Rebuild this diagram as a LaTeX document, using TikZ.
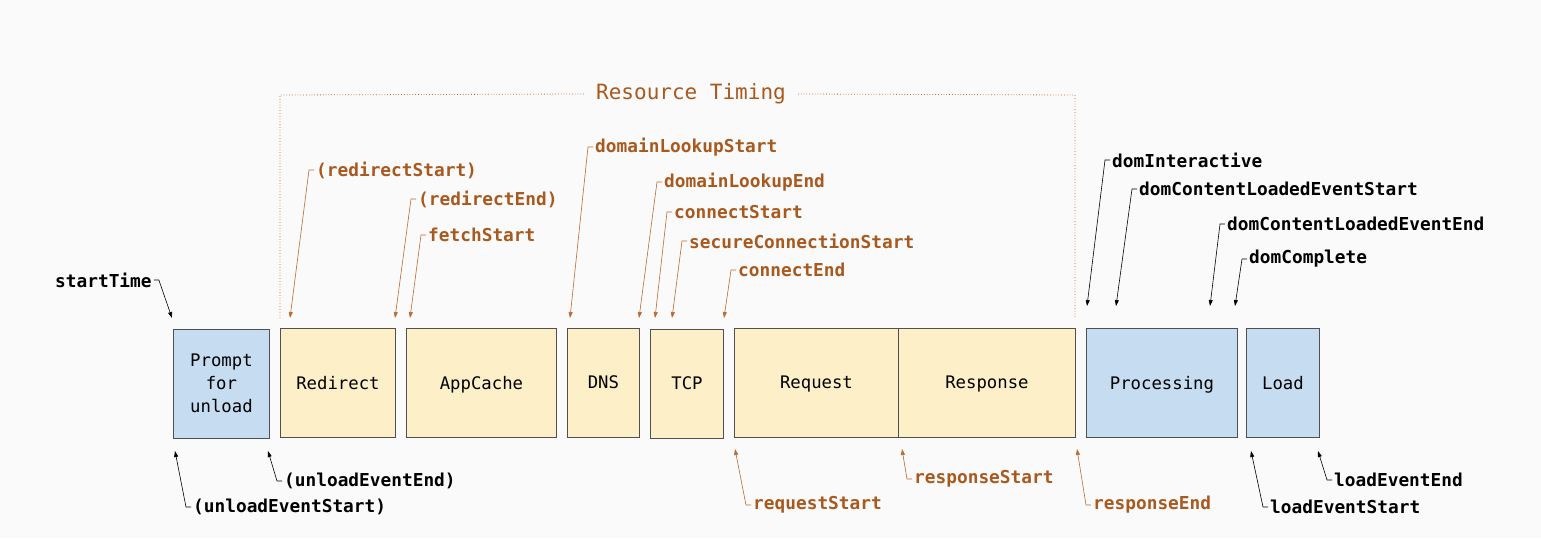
\documentclass[tikz,border=0pt]{standalone}
\usepackage{fontspec}
\setmonofont{DejaVu Sans Mono}
\usepackage{xcolor}
\usetikzlibrary{arrows.meta, positioning}

\definecolor{navblue}{HTML}{C6DCF0}
\definecolor{resyellow}{HTML}{FDEFC7}
\definecolor{rtorange}{HTML}{A8591E}
\definecolor{rtline}{HTML}{B96B31}
\definecolor{boxedge}{HTML}{505050}
\definecolor{pagebg}{HTML}{FAFAFA}

\begin{document}
\begin{tikzpicture}[
  x=1pt, y=-1pt,
  font=\ttfamily\fontsize{17.3}{23}\selectfont,
  phase/.style={rectangle, draw=boxedge, line width=0.9pt, anchor=north west, align=center, inner sep=0pt, minimum height=109pt, text depth=1pt},
  navbox/.style={phase, fill=navblue},
  resbox/.style={phase, fill=resyellow},
  evt/.style={font=\ttfamily\bfseries\fontsize{17.8}{20}\selectfont, inner sep=2pt, anchor=west},
  rtevt/.style={evt, text=rtorange},
  tip/.style={-{Triangle[length=6pt, width=4pt]}, line width=0.6pt},
  rttip/.style={tip, draw=rtline}
]
  \fill[pagebg] (0,0) rectangle (1541,538);
  \useasboundingbox (0,0) rectangle (1541,538);

  % phases
  \node [navbox, minimum width=96pt] (prompt) at (173,329) {Prompt\\for\\unload};
  \node [resbox, minimum width=115pt] (redirect) at (280,328) {Redirect};
  \node [resbox, minimum width=150pt] (appcache) at (406,328) {AppCache};
  \node [resbox, minimum width=72pt] (dns) at (567,328) {DNS};
  \node [resbox, minimum width=73pt] (tcp) at (650,329) {TCP};
  \node [resbox, minimum width=164pt] (request) at (734,328) {Request};
  \node [resbox, minimum width=177pt] (response) at (898,328) {Response};
  \node [navbox, minimum width=151pt] (processing) at (1086,328) {Processing};
  \node [navbox, minimum width=73pt] (load) at (1246,328) {Load};

  % resource timing bracket
  \node [font=\ttfamily\fontsize{21}{24}\selectfont, text=rtorange, inner sep=12pt] (rt) at (691,94) {Resource Timing};
  \draw [rtline, dotted, line width=0.8pt] (rt.west) -- (280,95) -- (280,318);
  \draw [rtline, dotted, line width=0.8pt] (rt.east) -- (1075,95) -- (1075,318);

  % marks above
  \node [evt] (starttime) at (53,280) {startTime};
  \node [rtevt] (redirstart) at (314,170) {(redirectStart)};
  \node [rtevt] (redirend) at (416,199) {(redirectEnd)};
  \node [rtevt] (fetchstart) at (426,235) {fetchStart};
  \node [rtevt] (dnsstart) at (593,147) {domainLookupStart};
  \node [rtevt] (dnsend) at (662,182) {domainLookupEnd};
  \node [rtevt] (connstart) at (672,212) {connectStart};
  \node [rtevt] (secstart) at (687,241) {secureConnectionStart};
  \node [rtevt] (connend) at (736,270) {connectEnd};
  \node [evt] (dominter) at (1110,160) {domInteractive};
  \node [evt] (dclstart) at (1137,189) {domContentLoadedEventStart};
  \node [evt] (dclend) at (1225,224) {domContentLoadedEventEnd};
  \node [evt] (domcomplete) at (1247,259) {domComplete};

  % marks below
  \node [evt] (unloadstart) at (191,507) {(unloadEventStart)};
  \node [evt] (unloadend) at (282,481) {(unloadEventEnd)};
  \node [rtevt] (reqstart) at (751,505) {requestStart};
  \node [rtevt] (respstart) at (912,479) {responseStart};
  \node [rtevt] (respend) at (1091,505) {responseEnd};
  \node [evt] (loadstart) at (1268,507) {loadEventStart};
  \node [evt] (loadend) at (1332,480) {loadEventEnd};

  % tips
  \coordinate (t-start) at (172,318);
  \coordinate (t-redirstart) at (290,318);
  \coordinate (t-redirend) at (395,318);
  \coordinate (t-fetch) at (410,318);
  \coordinate (t-dnsstart) at (570,318);
  \coordinate (t-dnsend) at (639,318);
  \coordinate (t-connstart) at (655,318);
  \coordinate (t-secstart) at (672,318);
  \coordinate (t-connend) at (724,318);
  \coordinate (t-dominter) at (1087,306);
  \coordinate (t-dclstart) at (1116,306);
  \coordinate (t-dclend) at (1210,306);
  \coordinate (t-domcomplete) at (1235,306);
  \coordinate (t-unloadstart) at (175,451);
  \coordinate (t-unloadend) at (268,451);
  \coordinate (t-reqstart) at (735,449);
  \coordinate (t-respstart) at (902,449);
  \coordinate (t-respend) at (1077,449);
  \coordinate (t-loadstart) at (1251,451);
  \coordinate (t-loadend) at (1318,451);

  \draw [tip] (starttime.east) -- ++(5,0) -- (t-start);
  \foreach \lbl/\pt in {redirstart/t-redirstart, redirend/t-redirend, fetchstart/t-fetch,
      dnsstart/t-dnsstart, dnsend/t-dnsend, connstart/t-connstart, secstart/t-secstart,
      connend/t-connend, reqstart/t-reqstart, respstart/t-respstart, respend/t-respend}
    \draw [rttip] (\lbl.west) -- ++(-5,0) -- (\pt);
  \foreach \lbl/\pt in {dominter/t-dominter, dclstart/t-dclstart, dclend/t-dclend,
      domcomplete/t-domcomplete, unloadstart/t-unloadstart, unloadend/t-unloadend,
      loadstart/t-loadstart, loadend/t-loadend}
    \draw [tip] (\lbl.west) -- ++(-5,0) -- (\pt);
\end{tikzpicture}
\end{document}
